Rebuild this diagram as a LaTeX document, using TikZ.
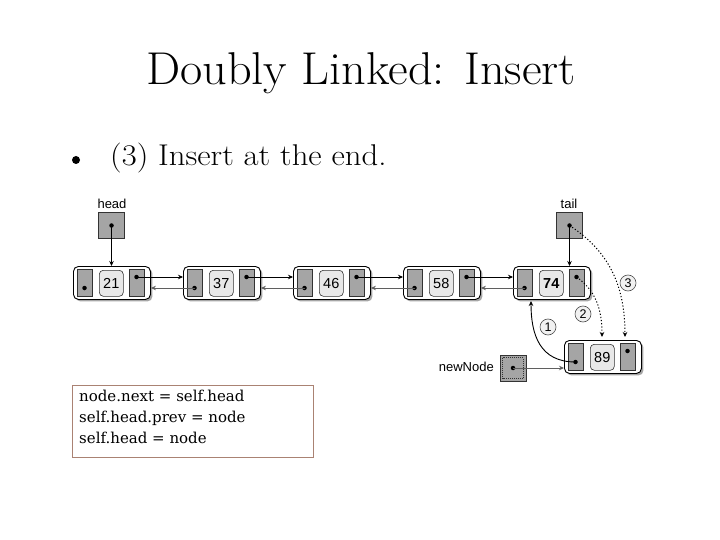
\documentclass[tikz,border=0pt]{standalone}
\usepackage{fontspec}
\newfontfamily\diagsans{Liberation Sans}
\newfontfamily\codeserif{DejaVu Serif}
\usetikzlibrary{arrows.meta,shadows,calc}
\definecolor{cellgray}{RGB}{165,165,165}
\definecolor{datagray}{RGB}{232,232,232}
\definecolor{prevgray}{RGB}{95,95,95}
\definecolor{codeborder}{RGB}{170,130,115}
\tikzset{
  outerbox/.style={draw=black, line width=0.9pt, fill=white, rounded corners=5pt,
    minimum width=77pt, minimum height=33pt, anchor=north west, inner sep=0pt,
    drop shadow={shadow xshift=2pt, shadow yshift=-2pt, fill=gray!70, opacity=1}},
  cellbox/.style={draw=black!80, line width=0.6pt, fill=cellgray, minimum width=15pt,
    minimum height=27pt, anchor=north west, inner sep=0pt},
  databox/.style={draw=black!80, line width=0.6pt, fill=datagray, rounded corners=4pt,
    minimum width=24pt, minimum height=26pt, anchor=north west, inner sep=0pt,
    font=\diagsans\fontsize{14.5}{15}\selectfont},
  ptrbox/.style={draw=black!80, line width=0.6pt, fill=cellgray, minimum width=26pt,
    minimum height=26pt, inner sep=0pt},
  dotn/.style={circle, fill=black, inner sep=0pt, minimum size=4.5pt},
  lbl/.style={font=\diagsans\fontsize{13}{13}\selectfont, inner sep=0pt},
  nextarrow/.style={draw=black, line width=0.7pt, -{Stealth[length=5pt,width=4.5pt]}},
  prevarrow/.style={draw=prevgray, line width=0.9pt, -{Stealth[length=5pt,width=4.5pt]}},
  dotarrow/.style={draw=black, line width=1pt, dash pattern=on 1.2pt off 2pt, -{Stealth[length=5pt,width=4.5pt]}},
  stepnum/.style={circle, draw=black!70, line width=0.6pt, fill=datagray!60, minimum size=16pt,
    inner sep=0pt, font=\diagsans\fontsize{12.5}{12}\selectfont},
}
\newcommand\dllnode[4]{%
  \begin{scope}[shift={(#2,#3)}]
    \node[outerbox] (#1) at (0,0) {};
    \node[cellbox] (#1l) at (4,3) {};
    \node[databox] (#1d) at (26,4) {#4};
    \node[cellbox] (#1r) at (56,3) {};
    \node[dotn] (#1lp) at (11.5,22) {};
    \node[dotn] (#1rp) at (63.5,11) {};
  \end{scope}}
\begin{document}
\begin{tikzpicture}[x=1pt,y=-1pt]
\useasboundingbox (0,0) rectangle (720,540);
% title
\node[anchor=base, inner sep=0pt, font=\fontsize{46}{48}\selectfont] (title) at (361,85) {\scalebox{1.05}[1]{Doubly Linked: Insert}};
\node[circle, fill=black, inner sep=0pt, minimum size=8pt] (bullet) at (76,160) {};
\node[anchor=base west, inner sep=0pt, font=\fontsize{30}{32}\selectfont] (sub) at (110,166) {\scalebox{1.09}[1]{(3) Insert at the end.}};
% nodes
\dllnode{a}{73}{266}{21}
\dllnode{b}{183}{266}{37}
\dllnode{c}{293}{266}{46}
\dllnode{d}{403}{266}{58}
\dllnode{e}{513}{266}{\textbf{74}}
\dllnode{f}{564}{340}{89}
% links
\foreach \p/\q in {a/b,b/c,c/d,d/e}{
  \draw[nextarrow] (\p rp.center) -- (\p rp.center -| \q.west);
  \draw[prevarrow] (\q lp.center) -- (\q lp.center -| \p.east);
}
% head and tail
\node[lbl] (headlbl) at (112,204) {head};
\node[ptrbox] (head) at (111.5,225.5) {};
\node[dotn] (headp) at (head.center) {};
\draw[nextarrow] (headp.center) -- (headp.center |- a.north);
\node[lbl] (taillbl) at (569,204) {tail};
\node[ptrbox] (tail) at (569.5,225.5) {};
\node[dotn] (tailp) at (tail.center) {};
\draw[nextarrow] (tailp.center) -- (tailp.center |- e.north);
% new node
\node[lbl, anchor=east] (newlbl) at (494,367) {newNode};
\node[ptrbox] (newn) at (513,368) {};
\draw[black!80, line width=0.6pt, dash pattern=on 1pt off 1pt] ($(newn.north west)+(3,3)$) rectangle ($(newn.south east)+(-3,-3)$);
\node[dotn] (newp) at (newn.center) {};
\draw[prevarrow] (newp.center) -- (newp.center -| f.west);
% step arrows
\coordinate (f2) at (602,337);
\coordinate (f3) at (625,337);
\draw[dotarrow] (erp.center) .. controls (595,290) and (602,308) .. (f2);
\draw[dotarrow] (tailp.center) .. controls (612,253) and (625,290) .. (f3);
\draw[nextarrow, line width=0.9pt] (flp.center) .. controls (540,362) and (531,335) .. (531,301);
\node[stepnum] (s1) at (548,327) {1};
\node[stepnum] (s2) at (583,314) {2};
\node[stepnum] (s3) at (628,283) {3};
% code box
\node[draw=codeborder, line width=0.9pt, fill=white, anchor=north west, minimum width=241pt,
  minimum height=72pt, inner sep=0pt] (code) at (72,385) {};
\node[anchor=north west, align=left, inner sep=0pt, font=\codeserif\fontsize{15}{21}\selectfont] (codetxt) at (79,390)
  {node.next = self.head\\ self.head.prev = node\\ self.head = node};
\end{tikzpicture}
\end{document}
